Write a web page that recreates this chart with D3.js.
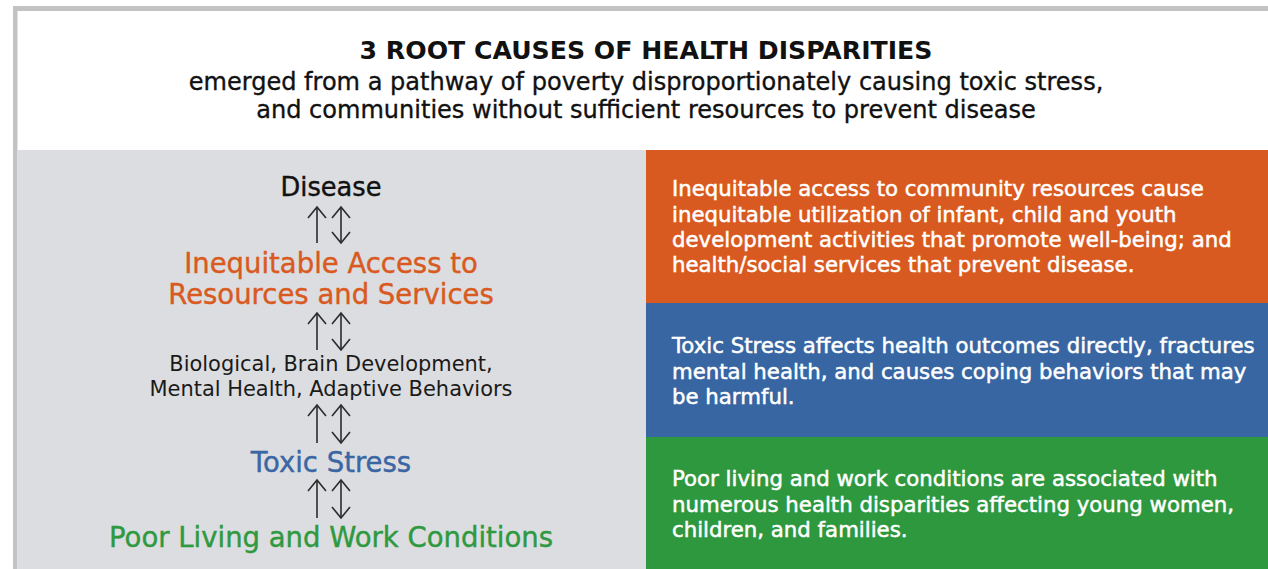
<!DOCTYPE html>
<html>
<head>
<meta charset="utf-8">
<script src="https://cdn.jsdelivr.net/npm/d3@7"></script>
<style>
  body { margin: 0; background: #fff; }
  svg { display: block; font-family: "DejaVu Sans", "Noto Sans", sans-serif; }
</style>
</head>
<body>
<div id="chart"></div>
<script>
// ---- content ----
const title = "3 ROOT CAUSES OF HEALTH DISPARITIES";
const subtitleLines = [
  "emerged from a pathway of poverty disproportionately causing toxic stress,",
  "and communities without sufficient resources to prevent disease"
];

const pathwayLabels = [
  ["Disease"],
  ["Inequitable Access to", "Resources and Services"],
  ["Biological, Brain Development,", "Mental Health, Adaptive Behaviors"],
  ["Toxic Stress"],
  ["Poor Living and Work Conditions"]
];
const pathwayColors = ["#111111", "#d95a20", "#1a1a1a", "#3a66a3", "#2e993f"];

const causeTexts = [
  ["Inequitable access to community resources cause",
   "inequitable utilization of infant, child and youth",
   "development activities that promote well-being; and",
   "health/social services that prevent disease."],
  ["Toxic Stress affects health outcomes directly, fractures",
   "mental health, and causes coping behaviors that may",
   "be harmful."],
  ["Poor living and work conditions are associated with",
   "numerous health disparities affecting young women,",
   "children, and families."]
];
const causeColors = ["#d95a20", "#3866a3", "#2e983e"];

// ---- layout ----
const width = 1268, height = 569;
const panelTop = 150, splitX = 646;

const svg = d3.select("#chart").append("svg")
  .attr("width", width)
  .attr("height", height);

// scale a group of text lines so its widest line gets the given width
function fitWidth(sel, target) {
  const w = d3.max(sel.nodes(), n => n.getComputedTextLength());
  const s = parseFloat(sel.style("font-size"));
  sel.style("font-size", (s * target / w).toFixed(2) + "px");
}

// frame
svg.append("rect").attr("x", 13).attr("y", 6).attr("width", width - 13).attr("height", 5).attr("fill", "#c3c3c3");
svg.append("rect").attr("x", 13).attr("y", 6).attr("width", 4.5).attr("height", height - 6).attr("fill", "#c3c3c3");

// title
const titleText = svg.append("text")
  .attr("x", splitX).attr("y", 50)
  .attr("dy", "0.35em")
  .attr("text-anchor", "middle")
  .style("font-size", "24px").style("font-weight", "bold")
  .attr("fill", "#111")
  .text(title);
fitWidth(titleText, 573);

const subs = svg.selectAll(".subtitle")
  .data(subtitleLines)
  .enter().append("text")
  .attr("class", "subtitle")
  .attr("x", splitX)
  .attr("y", (d, i) => 82 + i * 27.5)
  .attr("dy", "0.35em")
  .attr("text-anchor", "middle")
  .style("font-size", "20px")
  .attr("fill", "#111")
  .attr("stroke", "#111").attr("stroke-width", 0.35)
  .text(d => d);
fitWidth(subs, 915);

// left grey panel
svg.append("rect")
  .attr("x", 17.5).attr("y", panelTop)
  .attr("width", splitX - 17.5).attr("height", height - panelTop)
  .attr("fill", "#dcdde0");

// right panels
const panelEdges = [panelTop, 303, 437, height];
const panels = svg.selectAll(".cause")
  .data(causeTexts)
  .enter().append("g")
  .attr("class", "cause");

panels.append("rect")
  .attr("x", splitX)
  .attr("y", (d, i) => panelEdges[i])
  .attr("width", width - splitX)
  .attr("height", (d, i) => panelEdges[i + 1] - panelEdges[i])
  .attr("fill", (d, i) => causeColors[i]);

const firstLineY = [189, 346, 479];
panels.each(function (lines, i) {
  d3.select(this).selectAll("text")
    .data(lines)
    .enter().append("text")
    .attr("class", "cause-line")
    .attr("x", 672)
    .attr("y", (d, j) => firstLineY[i] + j * 25.3)
    .attr("dy", "0.35em")
    .attr("fill", "#fff")
    .attr("stroke", "#fff").attr("stroke-width", 0.5)
    .style("font-size", "19px")
    .text(d => d);
});
fitWidth(svg.selectAll(".cause-line"), 583);

// pathway labels
const cx = 331;
const labelY = [[187], [263, 294], [364, 389], [462], [537]];
const labelTarget = [101, null, 363, null, 444];

const labelGroups = pathwayLabels.map((lines, i) =>
  svg.selectAll(null)
    .data(lines)
    .enter().append("text")
    .attr("class", i === 2 ? "plain" : "level")
    .attr("x", cx)
    .attr("y", (d, j) => labelY[i][j])
    .attr("dy", "0.35em")
    .attr("text-anchor", "middle")
    .attr("fill", pathwayColors[i])
    .attr("stroke", pathwayColors[i])
    .attr("stroke-width", i === 2 ? 0 : 0.4)
    .style("font-size", "22px")
    .text(d => d)
);
fitWidth(labelGroups[0], labelTarget[0]);
fitWidth(labelGroups[2], labelTarget[2]);
// the coloured levels share one size, fitted on the widest
const big = svg.selectAll(".level").filter((d, i, n) => d !== "Disease");
fitWidth(big, labelTarget[4]);

// arrows between levels
const arrowSpans = [[207, 243], [313, 350], [405, 443], [480, 518]];
const arrowLine = d3.line();
const arrows = svg.append("g")
  .attr("fill", "none")
  .attr("stroke", "#2b2b2b")
  .attr("stroke-width", 1.6);

arrowSpans.forEach(([top, bottom]) => {
  const ux = 317, dx = 341, hw = 9, hh = 11;
  // single up arrow
  arrows.append("path").attr("d", arrowLine([[ux, bottom], [ux, top]]));
  arrows.append("path").attr("d", arrowLine([[ux - hw, top + hh], [ux, top], [ux + hw, top + hh]]));
  // up-down arrow
  arrows.append("path").attr("d", arrowLine([[dx, bottom], [dx, top]]));
  arrows.append("path").attr("d", arrowLine([[dx - hw, top + hh], [dx, top], [dx + hw, top + hh]]));
  arrows.append("path").attr("d", arrowLine([[dx - hw, bottom - hh], [dx, bottom], [dx + hw, bottom - hh]]));
});
</script>
</body>
</html>
